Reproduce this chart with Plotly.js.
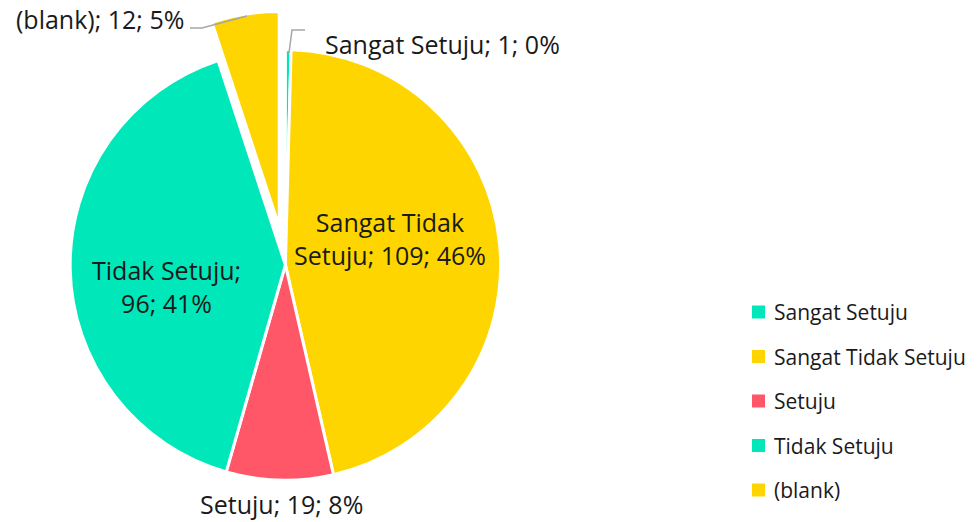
<!DOCTYPE html>
<html><head><meta charset="utf-8">
<script src="https://cdn.plot.ly/plotly-3.0.1.min.js"></script>
<style>html,body{margin:0;padding:0;background:#fff}#chart{width:979px;height:522px}</style>
</head><body><div id="chart"></div>
<script>
var categories = ["Sangat Setuju", "Sangat Tidak Setuju", "Setuju", "Tidak Setuju", "(blank)"];
var values = [1, 109, 19, 96, 12];
var sliceColors = ["#00E8BA", "#FFD500", "#FF5768", "#00E8BA", "#FFD500"];
var labelBreaks = ["Sangat Setuju; ", "Sangat Tidak<br>Setuju; ", "Setuju; ", "Tidak Setuju;<br>", "(blank); "];
var pulls = [0, 0, 0, 0, 0.18];

var total = values.reduce(function(a,b){return a+b;},0);
var texts = values.map(function(v,i){
  return labelBreaks[i] + v + "; " + Math.round(v/total*100) + "%";
});

var W = 979, H = 522;
var FONT = "Open Sans, Lato, sans-serif";
var trace = {
  type: "pie",
  labels: categories,
  values: values,
  textinfo: "none",
  sort: false,
  direction: "clockwise",
  rotation: 0,
  pull: pulls,
  marker: {colors: sliceColors, line: {color: "#ffffff", width: 3}},
  domain: {x: [0.032, 0.551], y: [0.006, 0.979]},
  showlegend: false,
  hoverinfo: "label+value+percent"
};

// data label placement (pixel positions from top-left) and alignment
var labelPos = [
  {x: 323, y: 44, anchor: "left", align: "left"},
  {x: 390, y: 238, anchor: "center", align: "center"},
  {x: 281, y: 504, anchor: "center", align: "center"},
  {x: 166, y: 286, anchor: "center", align: "center"},
  {x: 186, y: 19, anchor: "right", align: "right"}
];
var shapes = [], annotations = [];
texts.forEach(function(t, i){
  var p = labelPos[i];
  annotations.push({xref:"paper", yref:"paper", x:p.x/W, y:1-p.y/H,
    xanchor:p.anchor, yanchor:"middle", align:p.align, showarrow:false, text:t,
    font:{family:FONT, size:25, color:"#1a1a1a"}});
});
// leader lines for outside labels
function px(x){return (x/W).toFixed(5);} function py(y){return (1-y/H).toFixed(5);}
var leaders = [
  [[289,53],[292,30],[305,30]],
  [[190,28],[202,28],[247,16]]
];
leaders.forEach(function(pts){
  var d = pts.map(function(p,k){return (k?"L":"M")+px(p[0])+","+py(p[1]);}).join(" ");
  shapes.push({type:"path", xref:"paper", yref:"paper", path:d,
    line:{color:"#A6A6A6", width:1.5}});
});

// custom legend built from the category arrays
var legX = 752, legY0 = 312, legStep = 44.5;
categories.forEach(function(c, i){
  var cy = legY0 + i*legStep;
  shapes.push({type:"rect", xref:"paper", yref:"paper",
    x0: legX/W, x1: (legX+13)/W, y0: 1-(cy+6.5)/H, y1: 1-(cy-6.5)/H,
    fillcolor: sliceColors[i], line:{width:0}});
  annotations.push({xref:"paper", yref:"paper", x:(legX+20)/W, y:1-cy/H,
    xanchor:"left", yanchor:"middle", showarrow:false, text:c,
    font:{family:FONT, size:21, color:"#1a1a1a"}});
});

var layout = {
  width: 979, height: 522,
  margin: {l:0, r:0, t:0, b:0},
  paper_bgcolor: "#ffffff",
  showlegend: false,
  shapes: shapes,
  annotations: annotations
};
Plotly.newPlot("chart", [trace], layout, {displayModeBar:false, staticPlot:true});
</script></body></html>
